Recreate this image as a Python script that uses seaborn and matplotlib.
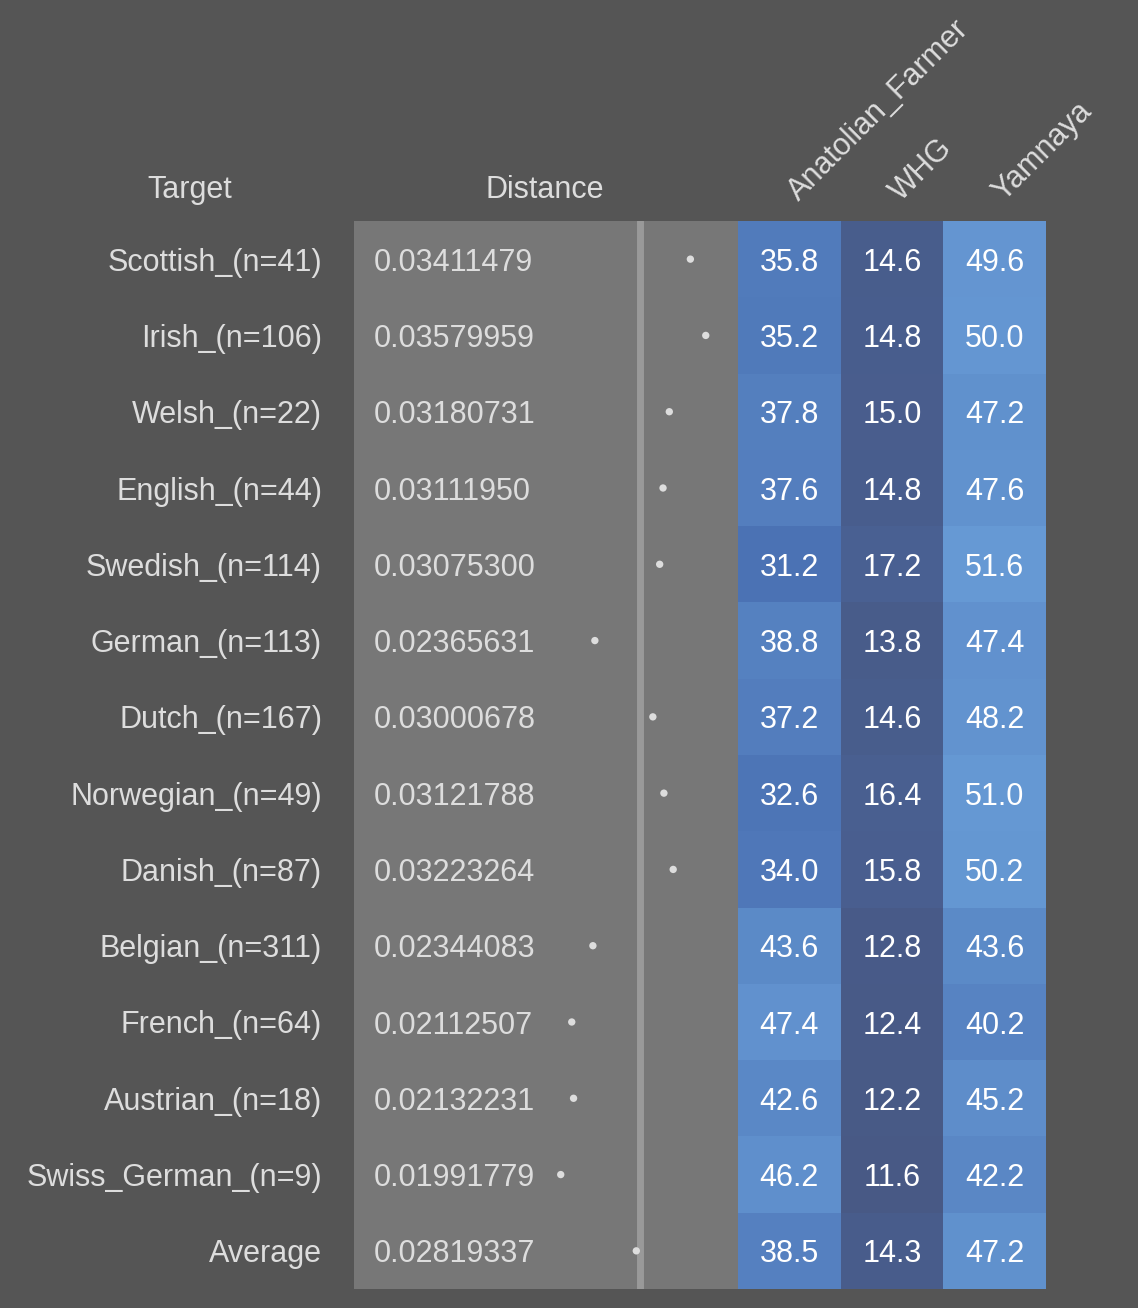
import numpy as np
import pandas as pd
import seaborn as sns
import matplotlib.pyplot as plt
import matplotlib.transforms as mtransforms
from matplotlib.colors import LinearSegmentedColormap

# data
targets = ["Scottish_(n=41)", "Irish_(n=106)", "Welsh_(n=22)", "English_(n=44)",
           "Swedish_(n=114)", "German_(n=113)", "Dutch_(n=167)", "Norwegian_(n=49)",
           "Danish_(n=87)", "Belgian_(n=311)", "French_(n=64)", "Austrian_(n=18)",
           "Swiss_German_(n=9)", "Average"]
distance = [0.03411479, 0.03579959, 0.03180731, 0.03111950, 0.03075300, 0.02365631,
            0.03000678, 0.03121788, 0.03223264, 0.02344083, 0.02112507, 0.02132231,
            0.01991779, 0.02819337]
anatolian = [35.8, 35.2, 37.8, 37.6, 31.2, 38.8, 37.2, 32.6, 34.0, 43.6, 47.4, 42.6, 46.2, 38.5]
whg = [14.6, 14.8, 15.0, 14.8, 17.2, 13.8, 14.6, 16.4, 15.8, 12.8, 12.4, 12.2, 11.6, 14.3]
yamnaya = [49.6, 50.0, 47.2, 47.6, 51.6, 47.4, 48.2, 51.0, 50.2, 43.6, 40.2, 45.2, 42.2, 47.2]
sources = ["Anatolian_Farmer", "WHG", "Yamnaya"]

df = pd.DataFrame({"Target": targets, "Distance": distance})
heat = pd.DataFrame({"Anatolian_Farmer": anatolian, "WHG": whg, "Yamnaya": yamnaya},
                    index=targets)

BG = "#555555"
PANEL = "#777777"
TXT = "#dddddd"
FS = 22

sns.set_theme(style="white")
plt.rcParams["font.family"] = ["Liberation Sans", "DejaVu Sans"]

W, H = 1138, 1308
fig = plt.figure(figsize=(W / 100, H / 100), dpi=100, facecolor=BG)

top, bot = 221, 1289
axd = fig.add_axes([354 / W, (H - bot) / H, 384 / W, (bot - top) / H])
axh = fig.add_axes([738 / W, (H - bot) / H, 308 / W, (bot - top) / H])

# distance panel
axd.set_facecolor(PANEL)
sns.scatterplot(data=df, x="Distance", y="Target", ax=axd, color=TXT, s=28,
                edgecolor="none", zorder=3)
axd.axvline(df["Distance"].iloc[-1] + 0.00045, color="#999999", lw=5, zorder=2)
axd.set_xlim(-0.00272, 0.03933)
axd.set_ylim(len(targets) - 0.5, -0.5)
trans = mtransforms.blended_transform_factory(axd.transAxes, axd.transData)
for i, d in enumerate(distance):
    axd.text(0.052, i, f"{d:.8f}", transform=trans, ha="left", va="center_baseline",
             fontsize=FS, color=TXT)
axd.set_xticks([])
axd.set_xlabel("")
axd.set_ylabel("")
axd.tick_params(axis="y", length=0, pad=23, labelsize=FS, labelcolor=TXT)
for s in axd.spines.values():
    s.set_visible(False)

# heatmap
cmap = LinearSegmentedColormap.from_list(
    "blues", [(0.0, "#485985"), (0.49, "#4b72b4"), (1.0, "#6699d4")])
sns.heatmap(heat, ax=axh, cmap=cmap, vmin=11.6, vmax=51.6, cbar=False,
            annot=True, fmt=".1f", annot_kws={"size": FS, "color": "white"},
            yticklabels=False)
for t in axh.texts:
    t.set_va("center_baseline")
axh.xaxis.tick_top()
axh.set_xticklabels(sources, rotation=45, ha="left", rotation_mode="anchor",
                    fontsize=FS, color=TXT)
axh.tick_params(axis="x", length=0, pad=10)
shift = mtransforms.ScaledTranslation(0.14, 0, fig.dpi_scale_trans)
for t in axh.get_xticklabels():
    t.set_transform(t.get_transform() + shift)
axh.set_ylabel("")

fig.text(190 / W, 1 - 190 / H, "Target", ha="center", va="center", fontsize=FS, color=TXT)
fig.text(545 / W, 1 - 190 / H, "Distance", ha="center", va="center", fontsize=FS, color=TXT)

fig.savefig("out.png", dpi=100, facecolor=BG)
